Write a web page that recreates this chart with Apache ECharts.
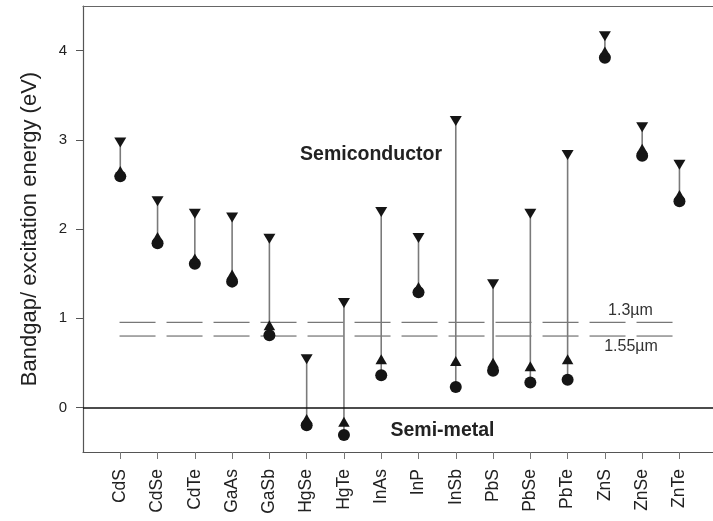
<!DOCTYPE html>
<html><head><meta charset="utf-8">
<script src="https://cdn.jsdelivr.net/npm/echarts@6/dist/echarts.min.js"></script>
<style>html,body{margin:0;padding:0;background:#fff}#c{width:713px;height:521px}</style>
</head><body><div id="c"></div>
<script>
// ---- data ----
const categories = ['CdS','CdSe','CdTe','GaAs','GaSb','HgSe','HgTe','InAs','InP','InSb','PbS','PbSe','PbTe','ZnS','ZnSe','ZnTe'];
const bulkGap    = [2.59, 1.84, 1.61, 1.41, 0.81, -0.20, -0.31, 0.36, 1.29, 0.23, 0.41, 0.28, 0.31, 3.92, 2.82, 2.31];
const lowerLevel = [2.65, 1.91, 1.67, 1.49, 0.92, -0.13, -0.16, 0.54, 1.35, 0.52, 0.50, 0.46, 0.54, 3.99, 2.90, 2.38];
const upperLevel = [2.97, 2.31, 2.17, 2.13, 1.89, 0.54, 1.17, 2.19, 1.90, 3.21, 1.38, 2.17, 2.83, 4.16, 3.14, 2.72];
const yTicks = [0, 1, 2, 3, 4];
const refEnergies = [0.954, 0.80];
const refLabels = ['1.3\u00b5m', '1.55\u00b5m'];
const refSpan = [-0.02, 14.84];
const regionLabels = ['Semiconductor', 'Semi-metal'];

const FONT = "'Liberation Sans', Arial, Helvetica, sans-serif";
const idx = categories.map((_, i) => i);
const chart = echarts.init(document.getElementById('c'), null, {renderer: 'canvas'});

const refSeries = refEnergies.map((e) => ({
  type: 'line', silent: true, symbol: 'none', z: 1,
  data: [[refSpan[0], e], [refSpan[1], e]],
  lineStyle: {color: '#555', width: 1, type: [36, 11]}
}));

chart.setOption({
  animation: false,
  backgroundColor: '#fff',
  grid: {left: 83, right: 0, top: 6, bottom: 69},
  xAxis: [{
    type: 'value', min: -1, max: 15.9, position: 'bottom',
    axisLine: {show: true, onZero: false, lineStyle: {color: '#555', width: 1.2}},
    axisTick: {show: true, customValues: idx, length: 7, lineStyle: {color: '#777', width: 1}},
    axisLabel: {customValues: idx, rotate: 90, margin: 17, formatter: (v) => categories[Math.round(v)],
      fontSize: 17.5, color: '#222', fontFamily: FONT},
    splitLine: {show: false}
  }, {
    type: 'value', min: -1, max: 15.9, position: 'top',
    axisLine: {show: true, onZero: false, lineStyle: {color: '#666', width: 1.2}},
    axisTick: {show: false}, axisLabel: {show: false}, splitLine: {show: false}
  }],
  yAxis: {
    type: 'value', min: -0.5, max: 4.5,
    axisLine: {show: true, onZero: false, lineStyle: {color: '#555', width: 1.2}},
    axisTick: {show: true, customValues: yTicks, length: 7, lineStyle: {color: '#555'}},
    axisLabel: {customValues: yTicks, margin: 16, fontSize: 15, color: '#222', fontFamily: FONT},
    splitLine: {show: false},
    name: 'Bandgap/ excitation energy (eV)', nameLocation: 'middle', nameGap: 42,
    nameTextStyle: {fontSize: 22, color: '#222', fontFamily: FONT}
  },
  graphic: [
    {type: 'text', x: 371, y: 154.5, silent: true, style: {text: regionLabels[0], font: 'bold 19.5px ' + FONT, fill: '#222', align: 'center', verticalAlign: 'middle'}},
    {type: 'text', x: 442.5, y: 431, silent: true, style: {text: regionLabels[1], font: 'bold 19.5px ' + FONT, fill: '#222', align: 'center', verticalAlign: 'middle'}},
    {type: 'text', x: 630.5, y: 310.5, silent: true, style: {text: refLabels[0], font: '16px ' + FONT, fill: '#333', align: 'center', verticalAlign: 'middle'}},
    {type: 'text', x: 631, y: 346.5, silent: true, style: {text: refLabels[1], font: '16px ' + FONT, fill: '#333', align: 'center', verticalAlign: 'middle'}}
  ],
  series: [
    ...refSeries,
    {
      type: 'custom', silent: true, z: 2,
      data: idx.map((i) => [i, bulkGap[i], upperLevel[i]]),
      renderItem: (params, api) => {
        const a = api.coord([api.value(0), api.value(1)]);
        const b = api.coord([api.value(0), api.value(2)]);
        return {type: 'line', shape: {x1: a[0], y1: a[1], x2: b[0], y2: b[1]},
          style: {stroke: '#7a7a7a', lineWidth: 1.6}};
      }
    },
    {
      type: 'line', silent: true, symbol: 'none', data: [], z: 3,
      markLine: {silent: true, symbol: 'none', label: {show: false},
        lineStyle: {color: '#111', width: 1.6, type: 'solid'},
        data: [{yAxis: 0}]}
    },
    {type: 'scatter', silent: true, z: 4, symbol: 'circle', symbolSize: 12,
      itemStyle: {color: '#151515', opacity: 1}, data: idx.map((i) => [i, bulkGap[i]])},
    {type: 'scatter', silent: true, z: 5, symbol: 'triangle', symbolSize: [11.5, 10],
      itemStyle: {color: '#151515', opacity: 1}, data: idx.map((i) => [i, lowerLevel[i]])},
    {type: 'scatter', silent: true, z: 5, symbol: 'triangle', symbolRotate: 180, symbolSize: [12, 10],
      itemStyle: {color: '#151515', opacity: 1}, data: idx.map((i) => [i, upperLevel[i]])}
  ]
});
</script>
</body></html>
